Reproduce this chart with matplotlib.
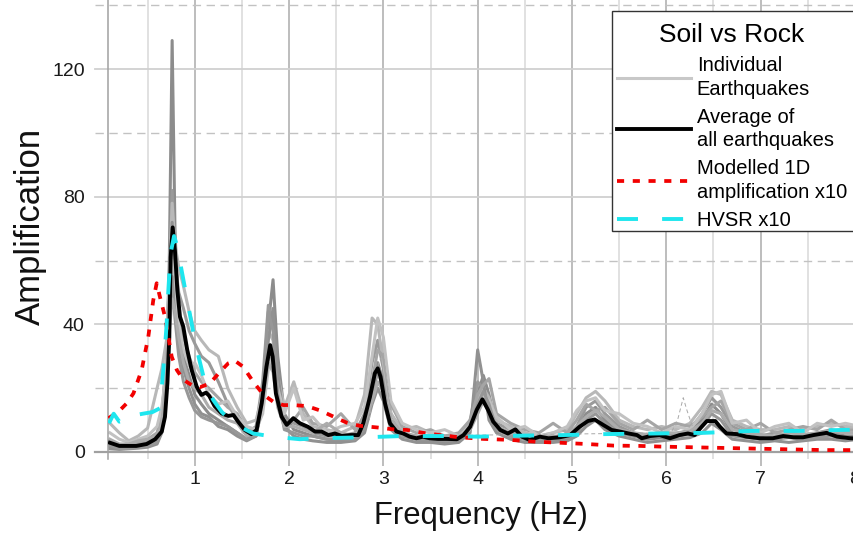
import matplotlib
matplotlib.use('Agg')
import matplotlib.pyplot as plt
import matplotlib.transforms as mtransforms
from matplotlib.lines import Line2D
from matplotlib.patches import Rectangle

plt.rcParams['font.family'] = ['Liberation Sans', 'DejaVu Sans']

# ---------------- data ----------------
freq_grid = [0.1, 0.2, 0.3, 0.4, 0.5, 0.6, 0.65, 0.7, 0.73, 0.76, 0.79, 0.83, 0.88, 0.94, 1.0,
             1.07, 1.15, 1.25, 1.35, 1.45, 1.55, 1.65, 1.72, 1.78, 1.83, 1.88, 1.95, 2.05, 2.15,
             2.25, 2.4, 2.55, 2.7, 2.8, 2.88, 2.94, 3.0, 3.08, 3.2, 3.35, 3.5, 3.65, 3.8, 3.92,
             4.0, 4.06, 4.12, 4.2, 4.35, 4.5, 4.65, 4.8, 4.95, 5.05, 5.15, 5.25, 5.35, 5.5, 5.65,
             5.8, 5.95, 6.1, 6.25, 6.38, 6.48, 6.58, 6.7, 6.85, 7.0, 7.15, 7.3, 7.45, 7.6, 7.75,
             7.9, 8.05]

eq_a = [1.5, 1.2, 1.5, 2, 2.5, 4, 8, 25, 60, 129, 70, 40, 30, 24, 18, 15, 12, 10, 8, 6, 4, 6, 20,
        40, 54, 30, 12, 7, 6, 5, 4, 3.5, 4, 8, 20, 28, 22, 9, 5, 4, 3.5, 3, 3.5, 8, 18, 24, 18, 8,
        5, 4, 3.5, 3.5, 4, 7, 12, 14, 10, 6, 5, 4, 4.5, 5, 6, 10, 15, 12, 6, 5, 4, 4.5, 5, 4, 5, 6,
        5, 5]
eq_b = [2, 1.5, 1.8, 2.5, 3, 5, 10, 30, 55, 82, 60, 50, 45, 38, 34, 30, 28, 22, 15, 10, 6, 8, 22,
        46, 40, 22, 10, 9, 8, 6, 5, 5, 6, 12, 28, 35, 26, 12, 6, 5, 4, 4, 4, 10, 22, 20, 14, 9, 7,
        5, 4, 4, 5, 8, 14, 16, 12, 8, 6, 5, 6, 5.5, 7, 12, 17, 14, 8, 6, 5, 6, 5, 5, 6, 7, 6, 6]
eq_c = [9, 6, 3.5, 5, 7.5, 20, 26, 35, 55, 78, 65, 58, 52, 44, 38, 35, 32, 30, 20, 14, 9, 10, 18,
        38, 35, 24, 14, 22, 12, 8, 7, 6, 8, 18, 42, 40, 28, 12, 7, 8, 6, 5, 5, 9, 16, 20, 17, 10,
        8, 6, 5, 6, 7, 12, 17, 19, 16, 10, 8, 7, 8, 7, 9, 14, 19, 18, 10, 8, 7, 7, 8, 7, 8, 9, 8, 8]
eq_d = [1, 0.8, 1, 1.2, 1.5, 2.5, 6, 20, 45, 72, 50, 35, 26, 20, 15, 12, 11, 8, 7, 5, 3.5, 5, 15,
        35, 45, 25, 8, 5, 4, 3.5, 3, 3, 3.5, 6, 15, 20, 16, 7, 4, 3, 3, 2.5, 3, 6, 32, 22, 10, 6,
        4, 3, 3, 3, 3.5, 5, 8, 10, 7, 5, 4, 3, 3.5, 4, 4.5, 6, 9, 7, 4, 3.5, 3, 3.5, 3, 3.5, 4, 4,
        3.5, 4]
eq_e = [3, 2, 2, 3, 4, 6, 12, 28, 48, 66, 55, 44, 36, 30, 25, 22, 20, 17, 14, 12, 7, 6, 14, 30,
        28, 16, 9, 10, 14, 9, 8, 12, 7, 10, 22, 32, 30, 15, 8, 6, 7, 5, 6, 10, 18, 21, 23, 12, 9,
        7, 6, 9, 6, 10, 15, 13, 14, 9, 7, 10, 7, 9, 8, 11, 14, 16, 9, 7, 9, 6, 7, 8, 7, 10, 7, 7]
eq_f = [6, 4, 3, 4, 5, 8, 14, 26, 42, 60, 52, 40, 32, 27, 28, 24, 18, 15, 16, 11, 8, 7, 12, 26,
        30, 20, 12, 20, 10, 11, 6, 8, 9, 14, 30, 42, 36, 16, 9, 7, 6, 7, 5, 8, 14, 18, 16, 11, 7,
        8, 5, 6, 8, 13, 16, 17, 13, 12, 9, 8, 6, 8, 7, 12, 18, 19, 9, 10, 6, 8, 9, 6, 9, 8, 9, 8]
eq_g = [2, 1, 1.2, 1.5, 2, 3, 7, 22, 40, 55, 42, 30, 22, 17, 13, 11, 10, 9, 8, 6, 4, 5, 18, 44,
        38, 18, 7, 6, 5, 5, 4, 4, 4, 7, 18, 25, 20, 8, 5, 4, 4, 3.5, 4, 7, 15, 19, 15, 7, 5, 4, 4,
        4, 4.5, 6, 10, 12, 9, 6, 5, 4.5, 5, 5, 5.5, 8, 12, 10, 5, 4.5, 4, 4, 4.5, 4, 4.5, 5, 4.5,
        4.5]
eq_h = [4, 2.5, 2.5, 3.5, 4, 5, 9, 24, 38, 48, 44, 36, 28, 22, 20, 18, 14, 12, 10, 9, 5, 6, 16,
        28, 25, 14, 8, 8, 7, 6, 9, 6, 5, 9, 16, 22, 19, 10, 6, 5, 5, 4, 5, 7, 12, 16, 13, 8, 6, 5,
        4.5, 5, 5, 8, 11, 13, 11, 7, 6, 5.5, 6, 6, 6.5, 9, 13, 12, 7, 6, 5.5, 5, 6, 5.5, 6, 6.5,
        6, 6]
eq_thin_f = [2.85, 2.95, 3.0, 3.04, 3.09, 3.15, 6.05, 6.12, 6.18, 6.22, 6.3]
eq_thin = [10, 28, 31, 22, 10, 5, 6, 10, 17, 13, 6]

avg_f = [0.1, 0.2, 0.38, 0.49, 0.58, 0.65, 0.684, 0.71, 0.73, 0.744, 0.766, 0.79, 0.815, 0.843,
         0.878, 0.92, 0.967, 1.02, 1.07, 1.12, 1.153, 1.21, 1.285, 1.355, 1.41, 1.46, 1.53, 1.6,
         1.656, 1.71, 1.76, 1.8, 1.826, 1.86, 1.92, 1.975, 2.045, 2.115, 2.2, 2.275, 2.345,
         2.416, 2.487, 2.558, 2.646, 2.734, 2.787, 2.858, 2.91, 2.94, 2.97, 3.017, 3.07, 3.14,
         3.21, 3.28, 3.35, 3.42, 3.49, 3.58, 3.67, 3.78, 3.85, 3.92, 3.99, 4.05, 4.11, 4.165,
         4.24, 4.32, 4.4, 4.47, 4.55, 4.66, 4.75, 4.87, 4.98, 5.08, 5.17, 5.24, 5.33, 5.42, 5.51,
         5.6, 5.69, 5.74, 5.83, 5.93, 6.04, 6.14, 6.23, 6.3, 6.375, 6.43, 6.52, 6.57, 6.64, 6.75,
         6.85, 6.99, 7.13, 7.24, 7.35, 7.45, 7.56, 7.7, 7.81, 7.95, 8.05]
avg_amp = [2.9, 1.9, 1.9, 2.5, 4.0, 6.4, 11, 21.6, 36, 61, 70.4, 63, 50.8, 42.4, 39.3, 32, 25.7,
           20.5, 17.9, 18.6, 17.6, 14.4, 12.1, 11.3, 11.6, 9.5, 6.9, 5.6, 6.9, 15.3, 26.7, 33.5,
           29.9, 18.4, 11.1, 8.5, 10.6, 9, 7.9, 6.4, 6.4, 5.3, 5.8, 5, 5.3, 5.3, 9, 17.3, 24.7,
           26.2, 23.6, 15.3, 9, 6.4, 5.8, 4.8, 4.3, 4.8, 4.3, 4.1, 4.1, 4.0, 5.3, 7.9, 13.2, 16.5,
           13.2, 9.5, 6.9, 5.8, 7.1, 4.8, 3.8, 4.8, 4.3, 4.6, 5.3, 7.9, 9.7, 10.2, 8.5, 6.9, 6.4,
           5.8, 5.3, 4.3, 5, 5.3, 4.3, 5.3, 5.8, 5.3, 7.9, 9.7, 9.7, 7.9, 5.8, 5.6, 4.8, 4.3, 4.3,
           5, 4.6, 4.6, 5.3, 6, 4.8, 4.3, 4.2]

model_f = [0.085, 0.19, 0.28, 0.35, 0.437, 0.507, 0.56, 0.596, 0.63, 0.684, 0.72, 0.755, 0.81,
           0.88, 0.967, 1.055, 1.16, 1.27, 1.355, 1.426, 1.514, 1.62, 1.73, 1.83, 1.94, 2.045,
           2.19, 2.33, 2.47, 2.61, 2.75, 2.93, 3.105, 3.25, 3.42, 3.6, 3.81, 4.06, 4.34, 4.63,
           4.87, 5.156, 5.44, 5.72, 5.93, 6.71, 7.67, 8.05]
model_amp = [10.6, 12.6, 15.3, 18.4, 25.7, 36.1, 47.6, 52.9, 48.7, 42.4, 36.1, 29.9, 25.7, 22.6,
             21, 20.3, 21.5, 25.2, 27.8, 28.6, 26.7, 22, 17.9, 15.8, 14.7, 14.7, 14.4, 13, 11.1,
             9.2, 8.2, 7.7, 7.1, 6.9, 6, 5.3, 4.6, 4.1, 3.8, 3.2, 2.9, 2.5, 2.0, 1.9, 1.7, 1.2,
             0.6, 0.6]

hvsr_f = [0.09, 0.14, 0.2, 0.26, 0.3, 0.36, 0.45, 0.55, 0.63, 0.666, 0.7, 0.72, 0.744, 0.78,
          0.815, 0.86, 0.92, 0.98, 1.04, 1.11, 1.196, 1.285, 1.373, 1.48, 1.62, 1.83, 2.115, 2.3,
          2.8, 3.2, 3.6, 4.0, 4.4, 4.9, 5.35, 5.9, 6.4, 6.9, 7.4, 7.85, 8.05]
hvsr_amp = [9, 12, 9.5, 10, 12, 11.5, 12, 12.5, 13.7, 25.7, 39.3, 50.8, 62.3, 67.7, 64.4, 57,
            47.6, 38.2, 29.9, 21.5, 16.3, 12.6, 10, 7.9, 5.8, 4.8, 4.0, 4.3, 4.6, 5.0, 5.0, 4.8,
            5.1, 5.3, 5.6, 5.8, 6.0, 6.6, 6.6, 6.9, 7.0]

x_major = [1, 2, 3, 4, 5, 6, 7, 8]
x_minor = [0.5, 1.5, 2.5, 3.5, 4.5, 5.5, 6.5, 7.5]
y_major = [0, 40, 80, 120]
y_minor = [20, 60, 100, 140]

legend_labels = ['Individual\nEarthquakes', 'Average of\nall earthquakes',
                 'Modelled 1D\namplification x10', 'HVSR x10']
legend_title = 'Soil vs Rock'

# ---------------- styles ----------------
RED_LS = (0, (1.9, 2.3))
CYAN_LS = (0, (5.4, 6.2))
LW_GRAY, LW_AVG, LW_RED, LW_CYAN = 2.2, 2.8, 2.7, 2.8

# ---------------- figure ----------------
W, H = 854, 533
fig = plt.figure(figsize=(W / 100, H / 100), dpi=100)
ax_l, ax_r, ax_b, ax_t = 108.3, 864.3, 459.0, 0.0
ax = fig.add_axes([ax_l / W, (H - ax_b) / H, (ax_r - ax_l) / W, (ax_b - ax_t) / H])
ax.set_xlim(0.083, 8.1)
ax.set_ylim(-2.2, 141.7)

for s in ['top', 'right', 'bottom']:
    ax.spines[s].set_visible(False)
ax.spines['left'].set_color('#a0a0a0')
ax.spines['left'].set_linewidth(1.1)

# grid
ext = -13.5 / (ax_r - ax_l)
trans = mtransforms.blended_transform_factory(ax.transAxes, ax.transData)
for v in x_minor:
    ax.axvline(v, color='#d9d9d9', lw=1.1, zorder=0)
for v in x_major:
    ax.axvline(v, color='#ababab', lw=1.1, zorder=0.5)
for v in y_major:
    ax.plot([ext, 1], [v, v], transform=trans, clip_on=False,
            color='#a0a0a0' if v == 0 else '#d0d0d0', lw=1.6 if v == 0 else 1.3, zorder=0.6)
for v in y_minor:
    ax.plot([ext, 1], [v, v], transform=trans, clip_on=False,
            color='#c2c2c2', lw=1.0, ls=(0, (6, 4)), zorder=0.6)

ax.set_xticks(x_major)
ax.set_xticklabels([str(v) for v in x_major])
ax.set_yticks(y_major)
ax.set_yticklabels([str(v) for v in y_major])
ax.tick_params(axis='x', which='major', length=5, width=1.1, color='#ababab', pad=4,
               labelsize=14, labelcolor='#1a1a1a')
ax.tick_params(axis='y', which='major', length=0, pad=17, labelsize=14, labelcolor='#1a1a1a')

# data lines
grays = [('#8c8c8c', eq_a), ('#9a9a9a', eq_b), ('#b8b8b8', eq_c), ('#919191', eq_d),
         ('#a5a5a5', eq_e), ('#c2c2c2', eq_f), ('#979797', eq_g), ('#acacac', eq_h)]
for col, ys in grays:
    ax.plot(freq_grid, ys, color=col, lw=LW_GRAY, zorder=2, solid_joinstyle='round')
ax.plot(eq_thin_f, eq_thin, color='#a8a8a8', lw=0.7, ls=(0, (4, 3)), zorder=2)

ax.plot(avg_f, avg_amp, color='black', lw=LW_AVG, zorder=3, solid_joinstyle='round')
ax.plot(model_f, model_amp, color='#f20000', lw=LW_RED, ls=RED_LS, zorder=4,
        dash_capstyle='butt')
ax.plot(hvsr_f, hvsr_amp, color='#1ee6ee', lw=LW_CYAN, ls=CYAN_LS, zorder=5,
        dash_capstyle='butt')

# axis titles
fig.text(30 / W, 1 - 226 / H, 'Amplification', rotation=90, ha='center', va='center',
         fontsize=25, color='#111111')
fig.text(481 / W, 1 - 516 / H, 'Frequency (Hz)', ha='center', va='center',
         fontsize=22.3, color='#111111')

# legend (frame drawn separately)
fig.patches.append(Rectangle((612 / W, 1 - 231 / H), (870 - 612) / W, (231 - 11) / H,
                             transform=fig.transFigure, facecolor='white',
                             edgecolor='#333333', lw=1.0, zorder=5))
handles = [Line2D([], [], color='#c8c8c8', lw=LW_GRAY),
           Line2D([], [], color='black', lw=LW_AVG),
           Line2D([], [], color='#f20000', lw=LW_RED, ls=RED_LS, dash_capstyle='butt'),
           Line2D([], [], color='#1ee6ee', lw=LW_CYAN, ls=CYAN_LS, dash_capstyle='butt')]
leg = fig.legend(handles, legend_labels, title=legend_title, loc='upper left',
                 bbox_to_anchor=(617 / W, 1 - 23 / H), bbox_transform=fig.transFigure,
                 fontsize=14.5, title_fontsize=19, frameon=False,
                 handlelength=3.66, handletextpad=0.3,
                 labelspacing=0.45, borderpad=0, borderaxespad=0)
leg.set_zorder(6)
for t in leg.get_texts():
    t.set_linespacing(1.3)
leg._legend_box.sep = 6.5

fig.savefig('out.png', dpi=100)
